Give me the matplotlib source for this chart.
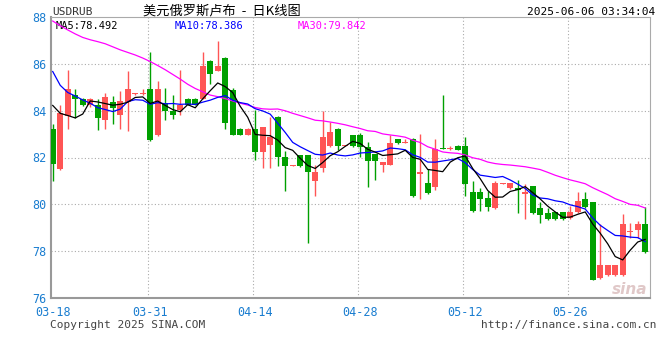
import numpy as np
import pandas as pd
import matplotlib
matplotlib.use("Agg")
import matplotlib.pyplot as plt

plt.rcParams['font.family'] = ['DejaVu Sans Mono', 'Noto Sans CJK SC']

# daily candles, one per calendar day from 2025-03-18
dates = pd.date_range("2025-03-18", periods=80, freq="D")
opens = [83.23, 81.50, 83.77, 84.68, 84.51, 84.23, 84.26, 83.62, 84.38, 83.80,
         84.37, 84.70, 84.70, 84.94, 82.95, 84.34, 84.00, 84.04, 84.51, 84.51,
         84.51, 86.13, 85.70, 86.26, 84.88, 83.23, 82.98, 83.23, 82.24, 82.52,
         83.74, 82.04, 81.64, 82.09, 82.09, 80.98, 81.57, 82.47, 83.23, 82.49,
         82.94, 82.94, 82.43, 82.13, 81.70, 81.70, 82.77, 82.62, 82.81, 81.28,
         80.89, 80.72, 82.40, 82.36, 82.51, 82.51, 80.51, 80.51, 80.26, 79.83,
         80.87, 80.68, 80.68, 80.43, 80.77, 79.83, 79.62, 79.66, 79.66, 79.40,
         79.66, 80.21, 80.09, 76.85, 76.98, 76.98, 76.98, 78.83, 78.89, 79.15]
highs = [83.45, 84.26, 85.74, 84.94, 84.55, 84.55, 84.51, 84.77, 84.64, 84.85,
         85.70, 84.74, 84.94, 86.52, 85.25, 84.98, 84.68, 85.74, 84.53, 84.53,
         86.52, 86.15, 86.99, 86.28, 84.98, 83.25, 83.25, 84.01, 83.32, 83.74,
         83.76, 82.26, 81.68, 82.11, 82.11, 81.70, 84.00, 83.53, 83.25, 82.53,
         82.96, 83.06, 82.68, 82.15, 81.81, 82.98, 82.79, 82.81, 82.85, 83.02,
         81.49, 82.77, 84.65, 82.51, 82.53, 82.89, 80.98, 80.68, 80.55, 80.98,
         80.91, 80.91, 81.02, 80.85, 80.79, 80.09, 79.83, 79.68, 79.68, 79.91,
         80.51, 80.51, 80.11, 79.15, 77.42, 77.42, 79.57, 79.19, 79.28, 79.87]
lows = [80.98, 81.48, 83.23, 83.69, 84.20, 84.15, 83.16, 83.23, 83.45, 83.23,
        83.12, 84.68, 84.68, 82.70, 82.93, 83.59, 83.66, 83.83, 84.24, 84.24,
        84.49, 85.15, 85.68, 83.23, 82.96, 82.96, 82.96, 81.88, 81.57, 81.57,
        81.62, 80.57, 81.62, 81.60, 78.34, 80.34, 81.36, 82.45, 82.30, 82.47,
        82.45, 82.04, 80.72, 81.06, 81.36, 81.68, 82.58, 82.60, 80.32, 80.21,
        80.45, 80.60, 82.36, 82.34, 82.32, 80.34, 79.66, 79.70, 79.70, 79.81,
        80.85, 80.66, 79.62, 79.36, 79.60, 79.19, 79.34, 79.34, 79.34, 79.38,
        79.64, 79.85, 76.76, 76.83, 76.96, 76.96, 76.96, 78.55, 78.55, 77.94]
closes = [81.72, 83.91, 84.94, 84.48, 84.23, 84.51, 83.70, 84.60, 84.13, 84.43,
          84.94, 84.72, 84.72, 82.74, 84.94, 84.00, 83.83, 84.26, 84.26, 84.26,
          85.91, 85.57, 85.91, 83.49, 82.98, 82.98, 83.23, 82.24, 83.32, 82.89,
          82.04, 81.62, 81.66, 81.62, 81.36, 81.40, 82.89, 83.11, 82.47, 82.51,
          82.47, 82.43, 81.87, 81.87, 81.79, 82.64, 82.60, 82.64, 80.34, 81.40,
          80.47, 82.38, 82.38, 82.38, 82.34, 80.85, 79.70, 80.21, 79.87, 80.89,
          80.89, 80.89, 80.60, 80.51, 79.62, 79.53, 79.36, 79.36, 79.36, 79.66,
          80.13, 79.87, 76.78, 77.40, 77.40, 77.40, 79.15, 78.85, 79.15, 77.96]
# closes of the 29 days before the window (estimated, only feed the MAs)
prior_closes = [89.91, 90.34, 89.58, 88.73, 87.51, 86.10, 87.30, 88.03, 88.33, 88.24,
                88.02, 88.62, 87.24, 90.04, 89.40, 89.83, 90.26, 90.86, 89.66, 90.11,
                89.80, 88.00, 86.00, 85.90, 85.90, 85.60, 85.40, 85.00, 83.40]

# values printed in the chart's MA legend
ma_names = ["MA5", "MA10", "MA30"]
ma_last = ["78.492", "78.386", "79.842"]

yticks = [76, 78, 80, 82, 84, 86, 88]
xtick_labels = ["03-18", "03-31", "04-14", "04-28", "05-12", "05-26"]

RED = "#ff5555"
GREEN = "#00a000"
BLUE_TXT = "#1a7dd0"
MA_COLORS = ["black", "#0000ff", "#ff00ff"]

all_close = pd.Series(prior_closes + closes)
ma5 = all_close.rolling(5).mean().values[-len(closes):]
ma10 = all_close.rolling(10).mean().values[-len(closes):]
ma30 = all_close.rolling(30).mean().values[-len(closes):]

x = np.arange(len(closes))
o = np.array(opens); c = np.array(closes)
h = np.array(highs); l = np.array(lows)
up = c >= o
cols = np.where(up, RED, GREEN)

fig = plt.figure(figsize=(6.6, 3.6), dpi=100)
ax = fig.add_axes([51 / 660, 1 - 298 / 360, 599 / 660, 281 / 360])

# grid
for v in yticks[1:-1]:
    ax.axhline(v, color="#aaaaaa", lw=0.8, ls=(0, (1, 2)), zorder=0)
lab_idx = [list(dates.strftime("%m-%d")).index(s) for s in xtick_labels]
for i in lab_idx[1:]:
    ax.axvline(i - 0.25, color="#aaaaaa", lw=0.8, ls=(0, (1, 2)), zorder=0)

# candles
ax.vlines(x, l, h, colors=cols, lw=1.0, zorder=2)
body = np.maximum(np.abs(c - o), 0.04)
ax.bar(x, body, bottom=np.minimum(o, c), width=0.8, color=cols, lw=0, zorder=3)

# moving averages
ax.plot(x, ma30, color=MA_COLORS[2], lw=0.9, zorder=4)
ax.plot(x, ma10, color=MA_COLORS[1], lw=0.9, zorder=4)
ax.plot(x, ma5, color=MA_COLORS[0], lw=0.9, zorder=5)

ax.set_xlim(-0.23, 79.64)
ax.set_ylim(76, 88)
ax.set_yticks(yticks)
ax.set_yticklabels([str(v) for v in yticks], color=BLUE_TXT, fontsize=8.5)
ax.set_xticks(lab_idx)
ax.set_xticklabels(xtick_labels, color=BLUE_TXT, fontsize=8.5)
ax.tick_params(axis="y", length=0, pad=3)
ax.tick_params(axis="x", length=0, pad=6)
for s in ["top", "right"]:
    ax.spines[s].set_color("#aaaaaa")
    ax.spines[s].set_linewidth(0.8)
for s in ["left", "bottom"]:
    ax.spines[s].set_color("#999999")
    ax.spines[s].set_linewidth(1.5)

# MA legend inside plot
for xpos, name, val, col in zip([0.007, 0.207, 0.412], ma_names, ma_last, MA_COLORS):
    ax.text(xpos, 0.985, f"{name}:{val}", transform=ax.transAxes,
            fontsize=7.5, color=col, va="top")

# header / footer
fig.text(52 / 660, 1 - 12 / 360, "USDRUB", fontsize=8, color="#333333", va="center")
fig.text(222 / 660, 1 - 11 / 360, "美元俄罗斯卢布  -  日K线图", fontsize=9.5,
         color="black", ha="center", va="center",
         family=["Noto Sans CJK SC", "DejaVu Sans"])
fig.text(655 / 660, 1 - 12 / 360, "2025-06-06 03:34:04", fontsize=8,
         color="black", ha="right", va="center")
fig.text(50 / 660, 1 - 325 / 360, "Copyright 2025 SINA.COM", fontsize=8,
         color="#444444", va="center")
fig.text(657 / 660, 1 - 325 / 360, "http://finance.sina.com.cn", fontsize=8,
         color="#444444", ha="right", va="center")
fig.text(630 / 660, 1 - 290 / 360, "sina", fontsize=11, color="#e0c8c8",
         ha="center", va="center", style="italic", fontweight="bold",
         family="DejaVu Sans")

plt.savefig("out.png", dpi=100)
